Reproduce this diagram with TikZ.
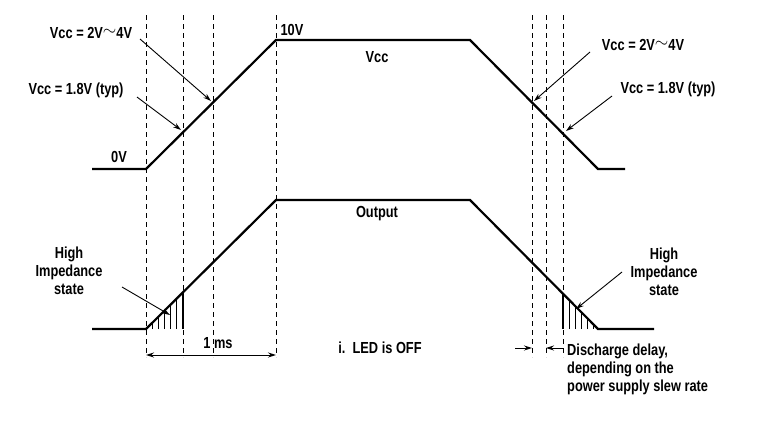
\documentclass[tikz,border=0pt]{standalone}
\usepackage{fontspec}
\setmainfont{Liberation Sans}[FakeStretch=0.8]
\usetikzlibrary{arrows.meta}
\begin{document}
\begin{tikzpicture}[x=1pt,y=-1pt,
  wave/.style={line width=2.2pt,line join=miter},
  vdash/.style={line width=0.9pt,dash pattern=on 5pt off 4pt},
  lbl/.style={font=\bfseries\fontsize{16}{18}\selectfont,inner sep=0pt},
  ptr/.style={-{Stealth[length=8pt,width=5pt]},line width=0.9pt},
  dim/.style={{Stealth[length=8pt,width=5pt]}-{Stealth[length=8pt,width=5pt]},line width=0.9pt}]
\useasboundingbox (0,0) rectangle (761,421);
% dashed verticals
\foreach \x/\n in {146/a,183/b,213/c,276/d,532/e,546/f,563/g}{
  \coordinate (t\n) at (\x,15); \coordinate (b\n) at (\x,357);
  \draw[vdash] (t\n) -- (b\n);}
% hatches
\foreach \x in {152,158,164,170,176}{\draw[line width=0.5pt] (\x,329) -- (\x,{329-(\x-146)});}
\draw[line width=1.8pt] (183,292) -- (183,329);
\foreach \x in {569,575,581,587,593}{\draw[line width=0.5pt] (\x,329) -- (\x,{329-(598-\x)});}
\draw[line width=1.8pt] (563,294) -- (563,329);
% waveforms
\draw[wave] (92,169) -- (146,169) -- (276,40) -- (470,40) -- (598,169) -- (625,169);
\draw[wave] (92,329) -- (146,329) -- (276,200) -- (470,200) -- (598,329) -- (654,329);
% labels
\node[lbl] (l1) at (91,33) {Vcc = 2V\raisebox{0.3ex}{$\sim$}4V};
\node[lbl] (l2) at (76,90) {Vcc = 1.8V (typ)};
\node[lbl] (l0) at (119,157) {0V};
\node[lbl] (l10) at (292,30) {10V};
\node[lbl] (lv) at (377,57) {Vcc};
\node[lbl] (lo) at (377,214) {Output};
\node[lbl] (li) at (380,348) {i.\ \ LED is OFF};
\node[lbl] (r1) at (643,45) {Vcc = 2V\raisebox{0.3ex}{$\sim$}4V};
\node[lbl] (r2) at (668,89) {Vcc = 1.8V (typ)};
\node[lbl,align=center] (hl) at (69,271) {High\\Impedance\\state};
\node[lbl,align=center] (hr) at (664,272) {High\\Impedance\\state};
\node[lbl] (ms) at (218,343) {1 ms};
\node[lbl,align=left,anchor=west] (dd) at (567,369) {Discharge delay,\\depending on the\\power supply slew rate};
% pointers
\coordinate (p1) at (211,101); \coordinate (q1) at (140,39);
\coordinate (p2) at (181,130); \coordinate (q2) at (137,97);
\coordinate (p3) at (534,101); \coordinate (q3) at (590,52);
\coordinate (p4) at (566,131); \coordinate (q4) at (612,96);
\coordinate (p5) at (170,315); \coordinate (q5) at (122,287);
\coordinate (p6) at (576,309); \coordinate (q6) at (622,272);
\foreach \i in {1,...,6}{\draw[ptr] (q\i) -- (p\i);}
% dimension arrows
\coordinate (m1) at (146,355); \coordinate (m2) at (276,355);
\draw[dim] (m1) -- (m2);
\coordinate (d0) at (515,348); \coordinate (d1) at (532,348);
\coordinate (d2) at (546,348); \coordinate (d3) at (563,348);
\draw[ptr] (d0) -- (d1);
\draw[ptr] (d3) -- (d2);
\end{tikzpicture}
\end{document}
